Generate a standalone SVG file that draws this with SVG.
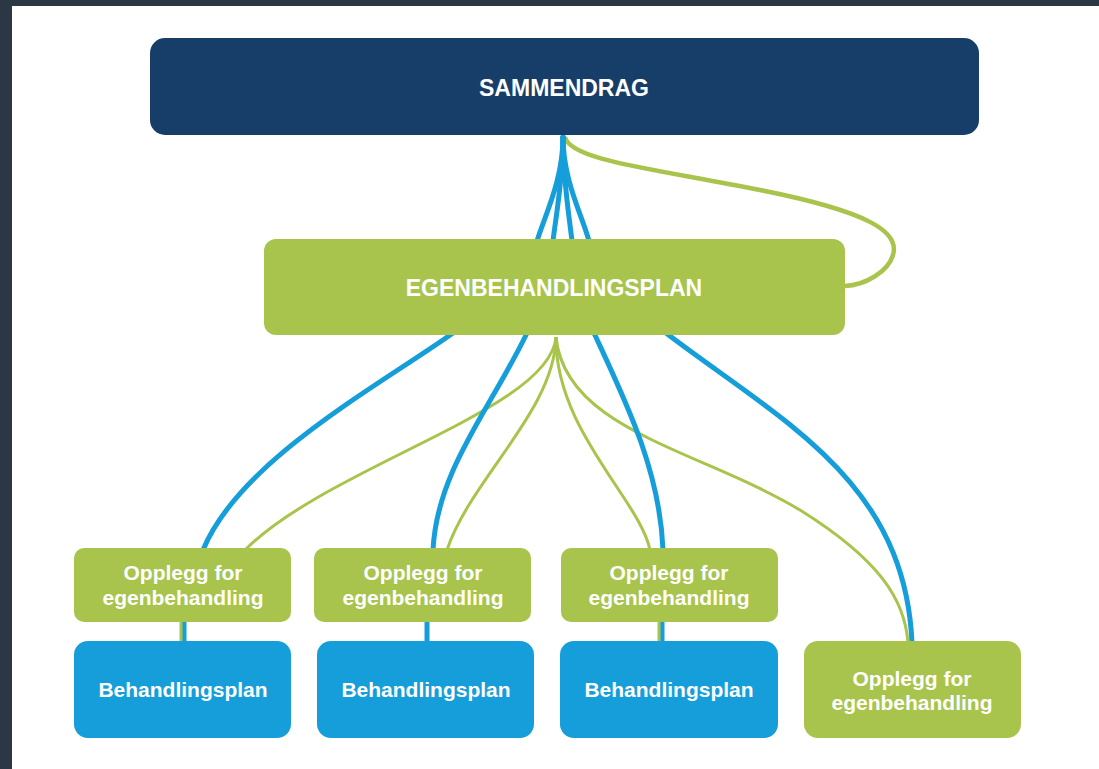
<svg xmlns="http://www.w3.org/2000/svg" width="1099" height="769" viewBox="0 0 1099 769">
<style>
.navy{fill:#173e69}
.green{fill:#a8c44c}
.blue{fill:#159ed9}
.t{font-family:"Liberation Sans",Arial,sans-serif;font-weight:bold;fill:#ffffff;text-anchor:middle}
.big{font-size:23px}
.sm{font-size:21px}
.cb{fill:none;stroke:#159ed9;stroke-width:5;stroke-linecap:round}
.cg{fill:none;stroke:#a8c44c;stroke-width:3}
.cgl{fill:none;stroke:#a8c44c;stroke-width:4.5}
</style>
<rect x="0" y="0" width="1099" height="769" fill="#2c3746"/>
<rect x="12" y="6" width="1087" height="763" fill="#ffffff"/>
<g id="connectors">
<path class="cgl" d="M565,137 C570,160 650,168 760,190 C870,212 900,232 893,255 C888,272 865,285 845,286"/>
<path class="cb" d="M563,137 C563,180 545,215 537,241"/>
<path class="cb" d="M563,137 C563,180 556,215 553,241"/>
<path class="cb" d="M563,137 C563,180 569,215 572,241"/>
<path class="cb" d="M563,137 C563,180 582,215 589,241"/>
<path class="cg" d="M556,337 C550,410 330,465 245,550"/>
<path class="cg" d="M556,337 C555,410 470,480 447,550"/>
<path class="cg" d="M556,337 C555,430 640,500 650,550"/>
<path class="cg" d="M556,337 C565,430 700,450 800,510 C880,560 905,600 908,643"/>
<path class="cb" d="M453,333 C380,385 240,460 203,550"/>
<path class="cb" d="M527,333 C490,410 437,470 433,550"/>
<path class="cb" d="M594,333 C625,400 660,470 663,550"/>
<path class="cb" d="M666,333 C780,420 905,480 912,643"/>
<path class="cb" d="M184,620 L184,643"/>
<path class="cg" d="M181,620 L181,643"/>
<path class="cb" d="M427,620 L427,643"/>
<path class="cb" d="M662,620 L662,643"/>
<path class="cg" d="M659,620 L659,643"/>
</g>
<g id="sammendrag">
<rect class="navy" x="150" y="38" width="829" height="97" rx="15"/>
<text class="t big" x="564" y="96">SAMMENDRAG</text>
</g>
<g id="egenbehandlingsplan">
<rect class="green" x="264" y="239" width="581" height="96" rx="12"/>
<text class="t big" x="554" y="296">EGENBEHANDLINGSPLAN</text>
</g>
<g id="opplegg1">
<rect class="green" x="74" y="548" width="217" height="74" rx="10"/>
<text class="t sm" x="183" y="580">Opplegg for</text>
<text class="t sm" x="183" y="605">egenbehandling</text>
</g>
<g id="opplegg2">
<rect class="green" x="314" y="548" width="217" height="74" rx="10"/>
<text class="t sm" x="423" y="580">Opplegg for</text>
<text class="t sm" x="423" y="605">egenbehandling</text>
</g>
<g id="opplegg3">
<rect class="green" x="561" y="548" width="217" height="74" rx="10"/>
<text class="t sm" x="669" y="580">Opplegg for</text>
<text class="t sm" x="669" y="605">egenbehandling</text>
</g>
<g id="behandlingsplan1">
<rect class="blue" x="74" y="641" width="217" height="97" rx="14"/>
<text class="t sm" x="183" y="697">Behandlingsplan</text>
</g>
<g id="behandlingsplan2">
<rect class="blue" x="317" y="641" width="217" height="97" rx="14"/>
<text class="t sm" x="426" y="697">Behandlingsplan</text>
</g>
<g id="behandlingsplan3">
<rect class="blue" x="560" y="641" width="218" height="97" rx="14"/>
<text class="t sm" x="669" y="697">Behandlingsplan</text>
</g>
<g id="opplegg4">
<rect class="green" x="804" y="641" width="217" height="97" rx="14"/>
<text class="t sm" x="912" y="686">Opplegg for</text>
<text class="t sm" x="912" y="710">egenbehandling</text>
</g>
</svg>
